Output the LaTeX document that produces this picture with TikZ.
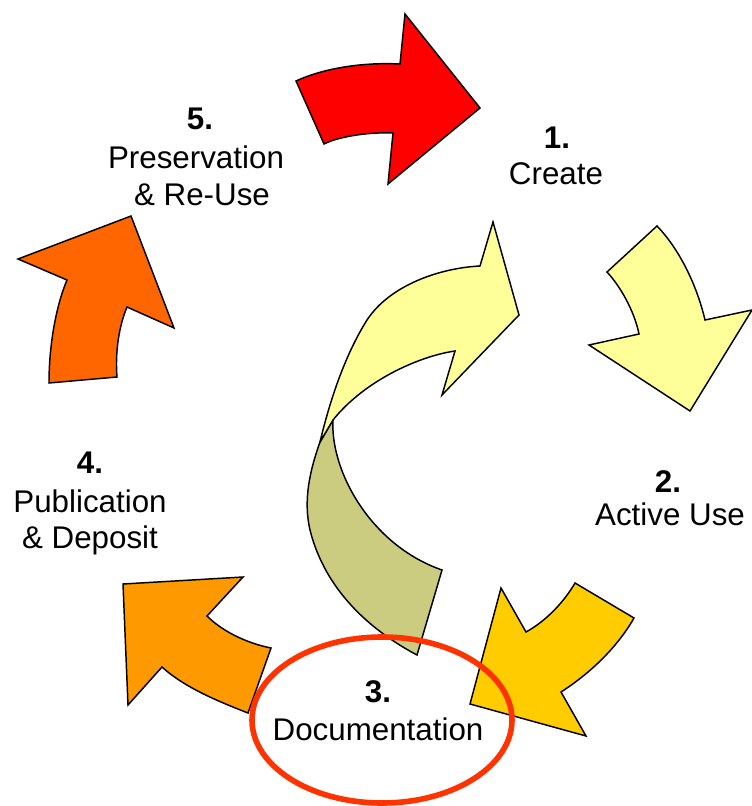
\documentclass[tikz,border=0pt]{standalone}
\usepackage{fontspec}
\setmainfont{Liberation Sans}
\definecolor{cRed}{HTML}{FF0000}
\definecolor{cLightY}{HTML}{FFFF99}
\definecolor{cGold}{HTML}{FFCC00}
\definecolor{cOrange}{HTML}{FF9900}
\definecolor{cOrRed}{HTML}{FF6600}
\definecolor{cOlive}{HTML}{CCCC80}
\definecolor{cRing}{HTML}{FF3300}
\tikzset{
  arrowshape/.style={draw=black, line width=1.1pt, line join=miter},
  numlbl/.style={anchor=base, inner sep=0pt, font=\fontsize{23.5}{27.5}\selectfont\bfseries},
  txtlbl/.style={anchor=base, inner sep=0pt, font=\fontsize{23.5}{27.5}\selectfont},
}
\begin{document}
\begin{tikzpicture}[x=0.75pt, y=-0.75pt]
\useasboundingbox (0,0) rectangle (751,806);
% red arrow 5 -> 1
\path[arrowshape, fill=cRed] (296,81) .. controls (322,69) and (360,62) .. (400,64)
  -- (405,14) -- (480,108) -- (388,184) -- (393,133)
  .. controls (370,132) and (340,136) .. (324,144) -- cycle;
% light yellow arrow 1 -> 2
\path[arrowshape, fill=cLightY] (657,226) -- (607,272)
  .. controls (620,286) and (634,310) .. (639,334)
  -- (589,345) -- (690,411) -- (752,310) -- (705,320)
  .. controls (698,290) and (682,252) .. (657,226) -- cycle;
% gold arrow 2 -> 3
\path[arrowshape, fill=cGold] (575,583) -- (634,618)
  .. controls (618,646) and (592,672) .. (561,692)
  -- (586,736) -- (470,704) -- (501,588) -- (526,632)
  .. controls (546,621) and (564,602) .. (575,583) -- cycle;
% orange arrow 3 -> 4
\path[arrowshape, fill=cOrange] (271,648) -- (248,713)
  .. controls (220,702) and (185,688) .. (162,667)
  -- (128,705) -- (123,584) -- (243,577) -- (207,616)
  .. controls (222,631) and (246,643) .. (271,648) -- cycle;
% orange-red arrow 4 -> 5
\path[arrowshape, fill=cOrRed] (49,383) -- (117,377)
  .. controls (115,352) and (119,326) .. (127,307)
  -- (174,328) -- (131,216) -- (18,259) -- (67,280)
  .. controls (56,306) and (49,345) .. (49,383) -- cycle;
% central twisted arrow: back (olive) part
\path[arrowshape, fill=cOlive] (333,420)
  .. controls (330,470) and (370,545) .. (442,570)
  -- (417,655)
  .. controls (370,630) and (325,590) .. (310,530)
  .. controls (303,500) and (310,470) .. (320,442) -- cycle;
% central twisted arrow: front (light yellow) part
\path[arrowshape, fill=cLightY] (320,442)
  .. controls (330,400) and (345,355) .. (367,320)
  .. controls (390,285) and (440,268) .. (480,266)
  -- (493,222) -- (519,315) -- (442,395) -- (455,351)
  .. controls (420,356) and (365,380) .. (333,420) -- cycle;
% ring around Documentation
\draw[cRing, line width=4.2pt] (382,720) ellipse [x radius=97.5pt, y radius=62.25pt];
% labels
\node[numlbl] (n1) at (557,149) {1.};
\node[txtlbl] (t1) at (556,185) {Create};
\node[numlbl] (n2) at (668,492) {2.};
\node[txtlbl] (t2) at (670,525) {Active Use};
\node[numlbl] (n3) at (378,702) {3.};
\node[txtlbl] (t3) at (378,740) {Documentation};
\node[numlbl] (n4) at (90,473) {4.};
\node[txtlbl] (t4a) at (90,512) {Publication};
\node[txtlbl] (t4b) at (90,548) {\& Deposit};
\node[numlbl] (n5) at (200,130) {5.};
\node[txtlbl] (t5a) at (196,169) {Preservation};
\node[txtlbl] (t5b) at (202,205) {\& Re-Use};
\end{tikzpicture}
\end{document}
